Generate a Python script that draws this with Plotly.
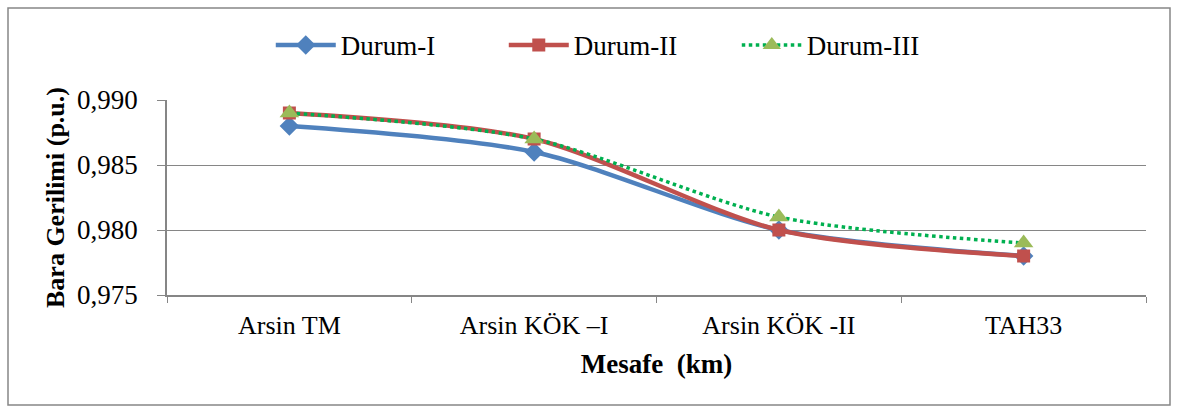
import plotly.graph_objects as go

categories = ["Arsin TM", "Arsin KÖK –I", "Arsin KÖK -II", "TAH33"]
durum1 = [0.988, 0.986, 0.980, 0.978]
durum2 = [0.989, 0.987, 0.980, 0.978]
durum3 = [0.989, 0.987, 0.981, 0.979]
yticks = [0.975, 0.980, 0.985, 0.990]

FONT = "Liberation Serif"
fig = go.Figure()
fig.add_trace(go.Scatter(x=categories, y=durum1, name="Durum-I", mode="lines+markers",
                         line=dict(color="#4F81BD", width=4.5, shape="spline", smoothing=0.8),
                         marker=dict(symbol="diamond", size=15, color="#4F81BD")))
fig.add_trace(go.Scatter(x=categories, y=durum2, name="Durum-II", mode="lines+markers",
                         line=dict(color="#C0504D", width=4.5, shape="spline", smoothing=0.8),
                         marker=dict(symbol="square", size=13, color="#C0504D")))
fig.add_trace(go.Scatter(x=categories, y=durum3, name="Durum-III", mode="lines+markers",
                         line=dict(color="#00B050", width=3.5, shape="spline", smoothing=0.8, dash="dot"),
                         marker=dict(symbol="triangle-up", size=17, color="#9BBB59")))

fig.update_layout(
    width=1177, height=412,
    margin=dict(l=167, r=31, t=100, b=117),
    paper_bgcolor="white", plot_bgcolor="white",
    separators=",.",
    font=dict(family=FONT, size=26, color="black"),
    showlegend=True,
    legend=dict(orientation="h", x=0.463, xanchor="center", y=1.28, yanchor="middle",
                font=dict(family=FONT, size=27, color="black"), itemwidth=60,
                entrywidth=158, entrywidthmode="pixels",
                bgcolor="rgba(0,0,0,0)"),
    xaxis=dict(type="category", range=[-0.5, 3.5], showgrid=False, showline=True,
               linecolor="#868686", linewidth=1.5, ticks="outside", tickson="boundaries",
               ticklen=6, tickcolor="#868686", ticklabelstandoff=6,
               tickfont=dict(family=FONT, size=26, color="black"),
               title=dict(text="<b>Mesafe  (km)</b>", font=dict(family=FONT, size=27, color="black"),
                          standoff=15)),
    yaxis=dict(range=[0.975, 0.990], tickvals=yticks, tickformat=".3f",
               showgrid=True, gridcolor="#868686", gridwidth=1,
               showline=True, linecolor="#868686", linewidth=1.5,
               ticks="outside", ticklen=8, tickcolor="#868686", ticklabelstandoff=14,
               tickfont=dict(family=FONT, size=27, color="black"),
               zeroline=False,
               title=dict(text="<b>Bara Gerilimi (p.u.)</b>", font=dict(family=FONT, size=26, color="black"),
                          standoff=5)),
    shapes=[dict(type="rect", xref="paper", yref="paper",
                 x0=(8 - 167) / 979, x1=(1170 - 167) / 979,
                 y0=(295 - 405) / 195, y1=(295 - 8) / 195,
                 line=dict(color="#868686", width=1.5), fillcolor="rgba(0,0,0,0)", layer="below")],
)

fig.write_html("out.html")
